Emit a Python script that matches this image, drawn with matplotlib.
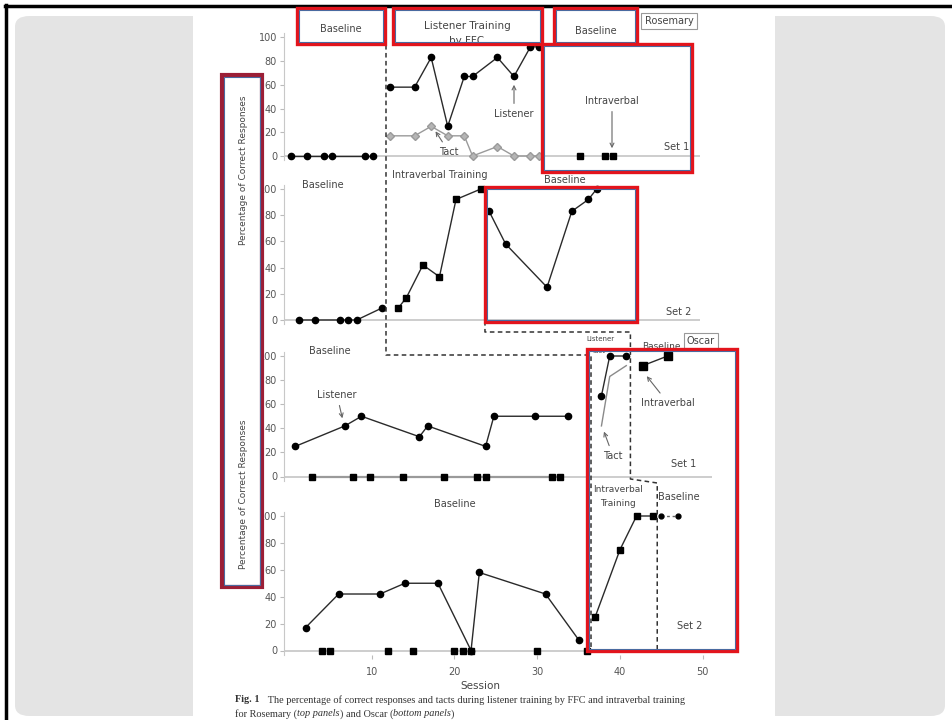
import matplotlib
matplotlib.use("Agg")
import matplotlib.pyplot as plt
from matplotlib.patches import Rectangle, FancyBboxPatch
from matplotlib.lines import Line2D

# ---------------- data (sessions, percentage correct) ----------------
ros_set1_listener_bl_sess = [0, 2, 4, 5, 9, 10]
ros_set1_listener_bl_vals = [0, 0, 0, 0, 0, 0]
ros_set1_train_sess = [12, 15, 17, 19, 21, 22, 25, 27, 29, 30]
ros_set1_listener_tr_vals = [58, 58, 83, 25, 67, 67, 83, 67, 92, 92]
ros_set1_tact_tr_vals = [17, 17, 25, 17, 17, 0, 8, 0, 0, 0]
ros_set1_iv_sess = [35, 38, 39]
ros_set1_iv_vals = [0, 0, 0]

ros_set2_bl_sess = [1, 3, 6, 7, 8, 11]
ros_set2_bl_vals = [0, 0, 0, 0, 0, 9]
ros_set2_tr_sess = [13, 14, 16, 18, 20, 23]
ros_set2_tr_vals = [9, 17, 42, 33, 92, 100]
ros_set2_post_sess = [24, 26, 31, 34, 36, 37]
ros_set2_post_vals = [83, 58, 25, 83, 92, 100]

osc_set1_listener_bl_sess = [1, 7, 9, 16, 17, 24, 25, 30, 34]
osc_set1_listener_bl_vals = [25, 42, 50, 33, 42, 25, 50, 50, 50]
osc_set1_iv_bl_sess = [3, 8, 10, 14, 19, 23, 24, 32, 33]
osc_set1_iv_bl_vals = [0, 0, 0, 0, 0, 0, 0, 0, 0]
osc_set1_train_sess = [38, 39, 41]
osc_set1_listener_tr_vals = [67, 100, 100]
osc_set1_tact_tr_vals = [42, 83, 92]
osc_set1_iv_post_sess = [43, 46]
osc_set1_iv_post_vals = [92, 100]

osc_set2_listener_bl_sess = [2, 6, 11, 14, 18, 22, 23, 31, 35]
osc_set2_listener_bl_vals = [17, 42, 42, 50, 50, 0, 58, 42, 8]
osc_set2_iv_bl_sess = [4, 5, 12, 15, 20, 21, 22, 30, 36]
osc_set2_iv_bl_vals = [0, 0, 0, 0, 0, 0, 0, 0, 0]
osc_set2_iv_tr_sess = [37, 40, 42, 44]
osc_set2_iv_tr_vals = [25, 75, 100, 100]
osc_set2_iv_post_sess = [45, 47]
osc_set2_iv_post_vals = [100, 100]

y_ticks = [0, 20, 40, 60, 80, 100]
x_ticks = [10, 20, 30, 40, 50]

# ---------------- layout helpers (pixels) ----------------
W, H = 953, 720
fig = plt.figure(figsize=(W / 100, H / 100), dpi=100)
fig.patch.set_facecolor("white")

def fx(px):
    return px / W

def fy(py):
    return 1 - py / H

PPS = 8.275  # pixels per session
DARK = "#2a2a2a"
TXT = "#444444"

def fig_line(xs, ys, **kw):
    fig.add_artist(Line2D([fx(x) for x in xs], [fy(y) for y in ys], **kw))

def fig_text(x, y, s, **kw):
    kw.setdefault("fontsize", 7)
    kw.setdefault("color", TXT)
    kw.setdefault("ha", "center")
    kw.setdefault("va", "center")
    return fig.text(fx(x), fy(y), s, **kw)

def sx(session, x0):
    return x0 + session * PPS

# background: black frame, grey rounded card, white figure area
fig.add_artist(FancyBboxPatch((fx(15), fy(716)), fx(930), (716 - 16) / H,
                              boxstyle="round,pad=0,rounding_size=0.015",
                              transform=fig.transFigure, facecolor="#e4e4e4",
                              edgecolor="none", zorder=-3))
fig.add_artist(Rectangle((fx(193), 0), fx(582), fy(8), transform=fig.transFigure,
                         facecolor="white", edgecolor="none", zorder=-2))
fig_line([5, 953], [6, 6], color="black", lw=2.5, zorder=5)
fig_line([6, 6], [5, 720], color="black", lw=2.5, zorder=5)


def make_axes(y100, y0, x0, left=284, right=700, show_x=False):
    pad = 4
    ppu = (y0 - y100) / 100.0
    top, bottom = y100 - pad, y0 + pad
    ax = fig.add_axes([fx(left), fy(bottom), (right - left) / W, (bottom - top) / H])
    ax.set_ylim(-pad / ppu, 100 + pad / ppu)
    ax.set_xlim((left - x0) / PPS, (right - x0) / PPS)
    ax.patch.set_alpha(0)
    for s in ["top", "right", "bottom"]:
        ax.spines[s].set_visible(False)
    ax.spines["left"].set_color("#c8c8c8")
    ax.set_yticks(y_ticks)
    ax.tick_params(axis="y", length=3, color="#bbbbbb", labelsize=7,
                   labelcolor="#555555", pad=2)
    ax.axhline(0, color="#cdcdcd", lw=1.4, zorder=0)
    if show_x:
        ax.set_xticks(x_ticks)
        ax.tick_params(axis="x", length=3, color="#bbbbbb", labelsize=7,
                       labelcolor="#555555", pad=6)
    else:
        ax.set_xticks([])
    return ax

# ---------------- Rosemary Set 1 ----------------
X0_R = 290.5
ax1 = make_axes(37.3, 156, X0_R)
ax1.plot(ros_set1_listener_bl_sess, ros_set1_listener_bl_vals, color=DARK, lw=1,
         marker="o", ms=4.5, mfc="black", mec="black")
ax1.plot(ros_set1_train_sess, ros_set1_tact_tr_vals, color="#9a9a9a", lw=1,
         marker="D", ms=4, mfc="#b5b5b5", mec="#9a9a9a")
ax1.plot(ros_set1_train_sess, ros_set1_listener_tr_vals, color=DARK, lw=1,
         marker="o", ms=4.5, mfc="black", mec="black")
ax1.plot(ros_set1_iv_sess, ros_set1_iv_vals, color="#bbbbbb", lw=1, ls="none",
         marker="s", ms=5, mfc="black", mec="black")

# ---------------- Rosemary Set 2 ----------------
ax2 = make_axes(189, 320, X0_R)
ax2.plot(ros_set2_bl_sess, ros_set2_bl_vals, color=DARK, lw=1,
         marker="o", ms=4.5, mfc="black", mec="black")
ax2.plot(ros_set2_tr_sess, ros_set2_tr_vals, color=DARK, lw=1,
         marker="s", ms=5, mfc="black", mec="black")
ax2.plot(ros_set2_post_sess, ros_set2_post_vals, color=DARK, lw=1,
         marker="o", ms=4.5, mfc="black", mec="black")

# ---------------- Oscar Set 1 ----------------
X0_O1 = 287
ax3 = make_axes(356, 476.5, X0_O1, right=712)
ax3.plot(osc_set1_listener_bl_sess, osc_set1_listener_bl_vals, color=DARK, lw=1,
         marker="o", ms=4.5, mfc="black", mec="black")
ax3.plot(osc_set1_iv_bl_sess, osc_set1_iv_bl_vals, color="#9a9a9a", lw=1.6,
         marker="s", ms=5, mfc="black", mec="black")
ax3.plot(osc_set1_train_sess, osc_set1_tact_tr_vals, color="#8a8a8a", lw=1)
ax3.plot(osc_set1_train_sess, osc_set1_listener_tr_vals, color=DARK, lw=1,
         marker="o", ms=4.5, mfc="black", mec="black")
ax3.plot(osc_set1_iv_post_sess, osc_set1_iv_post_vals, color=DARK, lw=1,
         marker="s", ms=5.5, mfc="black", mec="black")

# ---------------- Oscar Set 2 ----------------
X0_O2 = 289
ax4 = make_axes(516, 650.5, X0_O2, right=712, show_x=True)
ax4.plot(osc_set2_listener_bl_sess, osc_set2_listener_bl_vals, color=DARK, lw=1,
         marker="o", ms=4.5, mfc="black", mec="black")
ax4.plot(osc_set2_iv_bl_sess, osc_set2_iv_bl_vals, color="#9a9a9a", lw=1.2, ls="none",
         marker="s", ms=5, mfc="black", mec="black")
ax4.plot(osc_set2_iv_tr_sess, osc_set2_iv_tr_vals, color=DARK, lw=1,
         marker="s", ms=5, mfc="black", mec="black")
ax4.plot(osc_set2_iv_post_sess, osc_set2_iv_post_vals, color="#666666", lw=1, ls=(0, (2, 2)),
         marker="o", ms=3.5, mfc="black", mec="black")
fig_text(480, 686, "Session", fontsize=7.5)

# ---------------- phase-change lines ----------------
dash = dict(color="#333333", lw=1.1, ls=(0, (3, 2.2)), zorder=2)
xa = sx(11.5, X0_R)
xo1 = sx(36.5, X0_O2)
fig_line([xa, xa, xo1, xo1], [45, 355, 355, 650], **dash)
xb = sx(23.5, X0_R)
xc = sx(41.5, X0_O1)
xd = sx(44.5, X0_O2)
fig_line([xb, xb, xc, xc, xd, xd], [321, 332, 332, 479, 483, 650], **dash)

# ---------------- phase labels / annotations ----------------
fig_text(323, 185, "Baseline")
fig_text(440, 175, "Intraverbal Training")
fig_text(565, 180, "Baseline")
fig_text(679, 312, "Set 2")
fig_text(677, 147, "Set 1")
fig_text(330, 351, "Baseline")
fig_text(455, 504, "Baseline")
fig_text(618, 489, "Intraverbal", fontsize=6.5)
fig_text(618, 503, "Training", fontsize=6.5)
fig_text(679, 497, "Baseline")
fig_text(684, 464, "Set 1")
fig_text(690, 626, "Set 2")
fig_text(600, 339, "Listener", fontsize=5)
fig_text(598, 351, "Tact", fontsize=5)
fig_text(661, 346, "Baseline", fontsize=6.5)

arrow_kw = dict(arrowprops=dict(arrowstyle="->", color="#666666", lw=0.8),
                fontsize=7, color=TXT, ha="center", va="center",
                xycoords="figure fraction", textcoords="figure fraction")
fig.add_artist(plt.Annotation("Listener", xy=(fx(514), fy(82)), xytext=(fx(514), fy(114)), **arrow_kw))
fig.add_artist(plt.Annotation("Tact", xy=(fx(434), fy(129)), xytext=(fx(449), fy(152)), **arrow_kw))
fig.add_artist(plt.Annotation("Intraverbal", xy=(fx(612), fy(151)), xytext=(fx(612), fy(101)), **arrow_kw))
fig.add_artist(plt.Annotation("Listener", xy=(fx(343), fy(421)), xytext=(fx(337), fy(395)), **arrow_kw))
fig.add_artist(plt.Annotation("Intraverbal", xy=(fx(645), fy(374)), xytext=(fx(668), fy(403)), **arrow_kw))
fig.add_artist(plt.Annotation("Tact", xy=(fx(603), fy(429)), xytext=(fx(613), fy(456)), **arrow_kw))

# participant name boxes
fig_text(669, 21, "Rosemary", fontsize=7,
         bbox=dict(boxstyle="square,pad=0.35", fc="white", ec="#999999", lw=0.8))
fig_text(701, 341, "Oscar", fontsize=7,
         bbox=dict(boxstyle="square,pad=0.3", fc="white", ec="#999999", lw=0.8))

# header phase labels (inside highlight boxes)
fig_text(341, 29, "Baseline", zorder=4)
fig_text(467, 26, "Listener Training", fontsize=7.5, zorder=4)
fig_text(467, 41, "by FFC", fontsize=7.5, zorder=4)
fig_text(596, 31, "Baseline", zorder=4)

# y-axis titles
fig_text(243, 170, "Percentage of Correct Responses", rotation=90, fontsize=6.5)
fig_text(243, 494, "Percentage of Correct Responses", rotation=90, fontsize=6.5)

# caption: pieces laid out one after another
renderer = fig.canvas.get_renderer()
cap = dict(family="Liberation Serif", fontsize=7.4, color="#333333", ha="left")

def caption_line(y, pieces, x_start=235):
    x = x_start
    for s, extra in pieces:
        kw = dict(cap)
        kw.update(extra)
        t = fig_text(x, y, s, **kw)
        x += t.get_window_extent(renderer=renderer).width

caption_line(700, [("Fig. 1", {"fontweight": "bold"}),
                   ("   The percentage of correct responses and tacts during listener training by FFC and intraverbal training", {})])
caption_line(714, [("for Rosemary (", {}), ("top panels", {"style": "italic"}),
                   (") and Oscar (", {}), ("bottom panels", {"style": "italic"}), (")", {})])

# ---------------- highlight boxes ----------------
def hbox(x1, y1, x2, y2, outer="#e3141c", lw_out=2.4):
    fig.add_artist(Rectangle((fx(x1), fy(y2)), fx(x2 - x1), (y2 - y1) / H,
                             transform=fig.transFigure, fill=False,
                             edgecolor=outer, lw=lw_out, zorder=6))
    fig.add_artist(Rectangle((fx(x1 + 2), fy(y2 - 2)), fx(x2 - x1 - 4), (y2 - y1 - 4) / H,
                             transform=fig.transFigure, fill=False,
                             edgecolor="#4a6aa0", lw=0.8, zorder=6))

hbox(297, 8, 385, 44)
hbox(393, 8, 542, 44)
hbox(554, 8, 637, 44)
hbox(542, 44, 692, 172)
hbox(485, 187, 637, 322)
hbox(587, 349, 737, 651)
hbox(222, 75, 262, 587, outer="#9b1e36", lw_out=3)

fig.savefig("out.png", dpi=100)
